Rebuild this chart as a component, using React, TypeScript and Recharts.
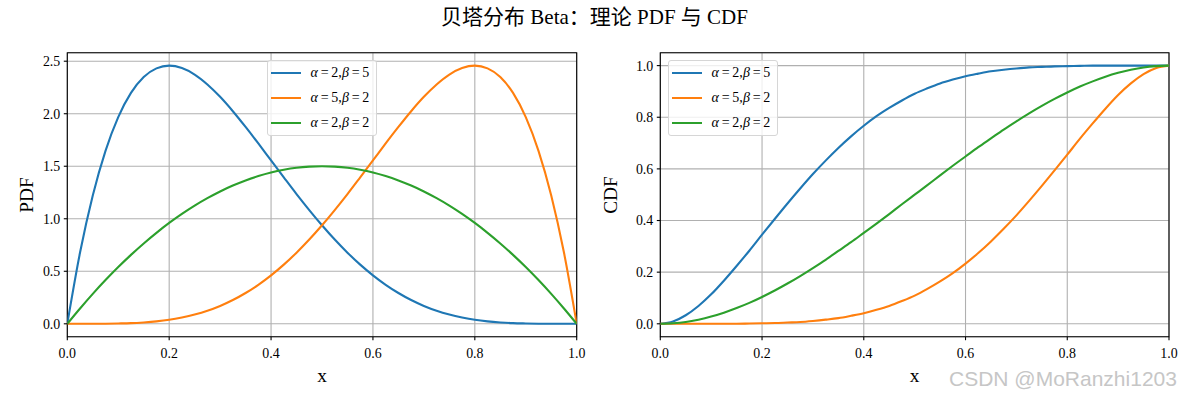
import React from "react";
import {
  CartesianGrid,
  Line,
  LineChart,
  ReferenceArea,
  XAxis,
  YAxis,
} from "recharts";

// x grid (step 0.025)
const xs = [
  0, 0.025, 0.05, 0.075, 0.1, 0.125, 0.15, 0.175, 0.2, 0.225, 0.25, 0.275, 0.3,
  0.325, 0.35, 0.375, 0.4, 0.425, 0.45, 0.475, 0.5, 0.525, 0.55, 0.575, 0.6,
  0.625, 0.65, 0.675, 0.7, 0.725, 0.75, 0.775, 0.8, 0.825, 0.85, 0.875, 0.9,
  0.925, 0.95, 0.975, 1,
];

// PDF curves
const pdf25 = [
  0, 0.678, 1.222, 1.647, 1.968, 2.198, 2.349, 2.432, 2.458, 2.435, 2.373,
  2.279, 2.161, 2.024, 1.874, 1.717, 1.555, 1.394, 1.235, 1.083, 0.938, 0.802,
  0.677, 0.563, 0.461, 0.371, 0.293, 0.226, 0.17, 0.124, 0.088, 0.06, 0.038,
  0.023, 0.013, 0.006, 0.003, 0.001, 0, 0, 0,
];
const pdf52 = [
  0, 0, 0, 0.001, 0.003, 0.006, 0.013, 0.023, 0.038, 0.06, 0.088, 0.124, 0.17,
  0.226, 0.293, 0.371, 0.461, 0.563, 0.677, 0.802, 0.938, 1.083, 1.235, 1.394,
  1.555, 1.717, 1.874, 2.024, 2.161, 2.279, 2.373, 2.435, 2.458, 2.432, 2.349,
  2.198, 1.968, 1.647, 1.222, 0.678, 0,
];
const pdf22 = [
  0, 0.146, 0.285, 0.416, 0.54, 0.656, 0.765, 0.866, 0.96, 1.046, 1.125, 1.196,
  1.26, 1.316, 1.365, 1.406, 1.44, 1.466, 1.485, 1.496, 1.5, 1.496, 1.485,
  1.466, 1.44, 1.406, 1.365, 1.316, 1.26, 1.196, 1.125, 1.046, 0.96, 0.866,
  0.765, 0.656, 0.54, 0.416, 0.285, 0.146, 0,
];

// CDF curves
const cdf25 = [
  0, 0.009, 0.033, 0.069, 0.114, 0.167, 0.224, 0.283, 0.345, 0.406, 0.466,
  0.524, 0.58, 0.632, 0.681, 0.726, 0.767, 0.804, 0.836, 0.865, 0.891, 0.912,
  0.931, 0.946, 0.959, 0.969, 0.978, 0.984, 0.989, 0.993, 0.995, 0.997, 0.998,
  0.999, 1, 1, 1, 1, 1, 1, 1,
];
const cdf52 = [
  0, 0, 0, 0, 0, 0, 0, 0.001, 0.002, 0.003, 0.005, 0.007, 0.011, 0.016, 0.022,
  0.031, 0.041, 0.054, 0.069, 0.088, 0.109, 0.135, 0.164, 0.196, 0.233, 0.274,
  0.319, 0.368, 0.42, 0.476, 0.534, 0.594, 0.655, 0.717, 0.776, 0.833, 0.886,
  0.931, 0.967, 0.991, 1,
];
const cdf22 = [
  0, 0.002, 0.007, 0.016, 0.028, 0.043, 0.061, 0.081, 0.104, 0.129, 0.156,
  0.185, 0.216, 0.248, 0.282, 0.316, 0.352, 0.388, 0.425, 0.463, 0.5, 0.537,
  0.575, 0.612, 0.648, 0.684, 0.718, 0.752, 0.784, 0.815, 0.844, 0.871, 0.896,
  0.919, 0.939, 0.957, 0.972, 0.984, 0.993, 0.998, 1,
];

const xTicks = [0, 0.2, 0.4, 0.6, 0.8, 1];
const pdfTicks = [0, 0.5, 1, 1.5, 2, 2.5];
const cdfTicks = [0, 0.2, 0.4, 0.6, 0.8, 1];

const series = [
  { key: "a", color: "#1f77b4", alpha: "2", beta: "5" },
  { key: "b", color: "#ff7f0e", alpha: "5", beta: "2" },
  { key: "c", color: "#2ca02c", alpha: "2", beta: "2" },
];

const SERIF = '"Liberation Serif", "Times New Roman", "Noto Sans CJK SC", serif';
const GRID = "#b0b0b0";

const pdfRows = xs.map((x, i) => ({ x, a: pdf25[i], b: pdf52[i], c: pdf22[i] }));
const cdfRows = xs.map((x, i) => ({ x, a: cdf25[i], b: cdf52[i], c: cdf22[i] }));

const tickStyle = { fill: "#000", fontSize: 13.9, fontFamily: SERIF };

function Legend({ left, top }: { left: number; top: number }) {
  return (
    <div
      style={{
        position: "absolute",
        left,
        top,
        width: 110,
        height: 76,
        boxSizing: "border-box",
        border: "1px solid #d6d6d6",
        borderRadius: 3,
        background: "rgba(255,255,255,0.8)",
        fontFamily: SERIF,
        fontSize: 14,
      }}
    >
      {series.map((s, i) => (
        <div
          key={s.key}
          style={{ position: "absolute", left: 0, top: 2 + i * 25, height: 20, width: 110 }}
        >
          <div
            style={{
              position: "absolute",
              left: 3,
              top: 9,
              width: 30,
              height: 2,
              background: s.color,
            }}
          />
          <div
            style={{
              position: "absolute",
              left: 43,
              top: 0,
              lineHeight: "20px",
              whiteSpace: "nowrap",
            }}
          >
            <i>α</i>
            {"\u2009=\u2009" + s.alpha + ","}
            <i>β</i>
            {"\u2009=\u2009" + s.beta}
          </div>
        </div>
      ))}
    </div>
  );
}

function Panel({
  rows,
  yDomain,
  yTicks,
  width,
  marginLeft,
  marginRight,
}: {
  rows: { x: number; a: number; b: number; c: number }[];
  yDomain: [number, number];
  yTicks: number[];
  width: number;
  marginLeft: number;
  marginRight: number;
}) {
  return (
    <LineChart
      width={width}
      height={396}
      data={rows}
      margin={{ top: 52.7, right: marginRight, left: marginLeft, bottom: 29.3 }}
    >
      <CartesianGrid stroke={GRID} strokeWidth={1.1} />
      <XAxis
        type="number"
        dataKey="x"
        domain={[0, 1]}
        ticks={xTicks}
        allowDataOverflow
        height={30}
        axisLine={false}
        tickLine={{ stroke: "#000", strokeWidth: 1.1 }}
        tickSize={3.5}
        tickMargin={8}
        tick={tickStyle}
        tickFormatter={(v: number) => v.toFixed(1)}
      />
      <YAxis
        type="number"
        domain={yDomain}
        ticks={yTicks}
        allowDataOverflow
        width={60}
        axisLine={false}
        tickLine={{ stroke: "#000", strokeWidth: 1.1 }}
        tickSize={3.5}
        tickMargin={3.5}
        tick={tickStyle}
        tickFormatter={(v: number) => v.toFixed(1)}
      />
      {series.map((s) => (
        <Line
          key={s.key}
          type="monotone"
          dataKey={s.key}
          stroke={s.color}
          strokeWidth={2.1}
          dot={false}
          activeDot={false}
          isAnimationActive={false}
        />
      ))}
      <ReferenceArea
        x1={0}
        x2={1}
        y1={yDomain[0]}
        y2={yDomain[1]}
        fill="none"
        fillOpacity={0}
        stroke="#000"
        strokeWidth={1.1}
      />
    </LineChart>
  );
}

export default function App() {
  return (
    <div
      style={{
        position: "absolute",
        left: 0,
        top: 0,
        width: 1189,
        height: 396,
        background: "#fff",
        overflow: "hidden",
        fontFamily: SERIF,
      }}
    >
      <div
        style={{
          position: "absolute",
          left: 0,
          top: 4,
          width: 1189,
          textAlign: "center",
          fontSize: 21,
          lineHeight: "26px",
          color: "#000",
        }}
      >
        贝塔分布 Beta：理论 PDF 与 CDF
      </div>

      <div style={{ position: "absolute", left: 0, top: 0 }}>
        <Panel
          rows={pdfRows}
          yDomain={[-0.1229, 2.581]}
          yTicks={pdfTicks}
          width={590}
          marginLeft={7.3}
          marginRight={13.3}
        />
      </div>
      <div style={{ position: "absolute", left: 590, top: 0 }}>
        <Panel
          rows={cdfRows}
          yDomain={[-0.05, 1.05]}
          yTicks={cdfTicks}
          width={599}
          marginLeft={10.3}
          marginRight={20}
        />
      </div>

      <Legend left={266.5} top={60} />
      <Legend left={667.5} top={59.5} />

      {/* axis labels */}
      <div
        style={{
          position: "absolute",
          left: 27,
          top: 195,
          fontSize: 19.4,
          transform: "translate(-50%, -50%) rotate(-90deg)",
          whiteSpace: "nowrap",
        }}
      >
        PDF
      </div>
      <div
        style={{
          position: "absolute",
          left: 611,
          top: 195,
          fontSize: 19.4,
          transform: "translate(-50%, -50%) rotate(-90deg)",
          whiteSpace: "nowrap",
        }}
      >
        CDF
      </div>
      <div
        style={{
          position: "absolute",
          left: 322,
          top: 376,
          fontSize: 19.4,
          transform: "translate(-50%, -50%)",
        }}
      >
        x
      </div>
      <div
        style={{
          position: "absolute",
          left: 914.5,
          top: 376,
          fontSize: 19.4,
          transform: "translate(-50%, -50%)",
        }}
      >
        x
      </div>

      <div
        style={{
          position: "absolute",
          left: 949,
          top: 366,
          fontSize: 21,
          lineHeight: "26px",
          fontFamily: '"Liberation Sans", Arial, sans-serif',
          color: "#c6c6c6",
          whiteSpace: "nowrap",
        }}
      >
        CSDN @MoRanzhi1203
      </div>
    </div>
  );
}
